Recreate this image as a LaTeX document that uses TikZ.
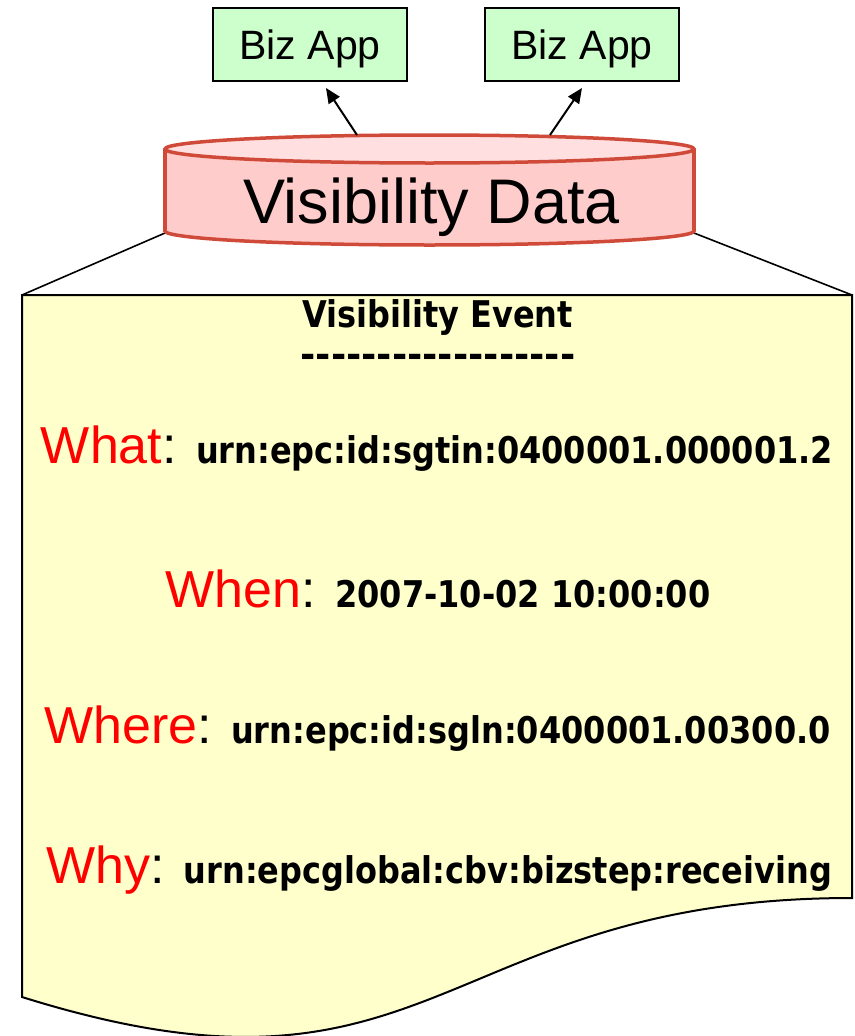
\documentclass[tikz,border=0pt]{standalone}
\usepackage{fontspec}
\newfontfamily\arialf{Liberation Sans}
\newfontfamily\verdf{DejaVu Sans}
\usetikzlibrary{arrows.meta}
\definecolor{appfill}{HTML}{CCFFCC}
\definecolor{cylfill}{HTML}{FFCCCC}
\definecolor{cyltop}{HTML}{FFDFDF}
\definecolor{cylline}{HTML}{CF4A38}
\definecolor{docfill}{HTML}{FFFFCC}
\newcommand\evkey[1]{{\arialf\fontsize{52}{60}\selectfont\textcolor{red}{#1}: }}
\newcommand\evval[1]{{\verdf\bfseries\fontsize{32}{38}\selectfont\scalebox{1}[1.15]{#1}}}
\tikzset{
  app/.style={draw=black, line width=2pt, fill=appfill, minimum width=194pt,
    minimum height=73pt, inner sep=0pt, font=\arialf\fontsize{41}{48}\selectfont,
    text height=29.4pt, text depth=0pt},
  conn/.style={line width=2pt, -{Triangle[length=15pt,width=13pt]}},
  edgeline/.style={line width=1.6pt, black},
  cylbody/.style={draw=cylline, line width=3.5pt},
  evline/.style={anchor=base, inner sep=0pt},
  doc/.style={draw=black, line width=2pt, fill=docfill},
}
\begin{document}
\begin{tikzpicture}[x=1pt,y=-1pt]
\useasboundingbox (0,0) rectangle (854,1036);
% document shape
\draw[doc] (22,295) -- (852,295) -- (852,898) .. controls (437,898) and (437,1127) .. (22,997) -- cycle;
% lines from cylinder to document
\coordinate (cylL) at (165,233);
\coordinate (cylR) at (694,233);
\coordinate (docTL) at (22,295);
\coordinate (docTR) at (852,295);
\draw[edgeline] (cylL) -- (docTL);
\draw[edgeline] (cylR) -- (docTR);
% cylinder
\fill[cylfill] (165,149) rectangle (694,231);
\fill[cylfill] (429.5,231) ellipse [x radius=264.5pt, y radius=14pt];
\begin{scope}
\clip (140,231) rectangle (720,260);
\draw[cylbody] (429.5,231) ellipse [x radius=264.5pt, y radius=14pt];
\end{scope}
\draw[cylbody] (165,149) -- (165,231);
\draw[cylbody] (694,149) -- (694,231);
\draw[cylbody, fill=cyltop] (429.5,149) ellipse [x radius=264.5pt, y radius=14pt];
\node[evline, font=\arialf\fontsize{63}{70}\selectfont] (vdata) at (431.5,223) {Visibility Data};
% biz apps
\node[app] (app1) at (310,44.5) {Biz App};
\node[app] (app2) at (582,44.5) {Biz App};
\coordinate (a1s) at (357,135);
\coordinate (a1e) at (326,88);
\coordinate (a2s) at (550,135);
\coordinate (a2e) at (582,88);
\draw[conn] (a1s) -- (a1e);
\draw[conn] (a2s) -- (a2e);
% event text
\node[evline] (title) at (437.5,327) {\evval{Visibility Event}};
\node[evline] (dashes) at (438,367) {\evval{\scalebox{1.15}[1]{------------------}}};
\node[evline] (what) at (437,463) {\evkey{What}\evval{urn:epc:id:sgtin:0400001.000001.2}};
\node[evline] (when) at (438,607) {\evkey{When}\evval{2007-10-02 10:00:00}};
\node[evline] (where) at (437.5,743) {\evkey{Where}\evval{urn:epc:id:sgln:0400001.00300.0}};
\node[evline] (why) at (439,883) {\evkey{Why}\evval{urn:epcglobal:cbv:bizstep:receiving}};
\end{tikzpicture}
\end{document}
